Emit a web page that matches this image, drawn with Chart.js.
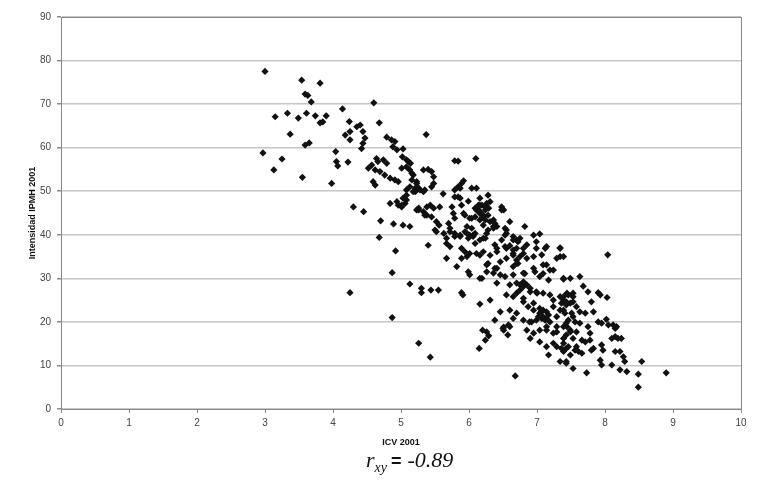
<!DOCTYPE html>
<html>
<head>
<meta charset="utf-8">
<title>ICV 2001 vs Intensidad IPMH 2001</title>
<script src="https://cdn.jsdelivr.net/npm/chart.js@4.4.1/dist/chart.umd.min.js"></script>
<style>
  html, body { margin: 0; padding: 0; background: #fff; }
  #wrap { position: relative; width: 766px; height: 498px; }
  #note {
    position: absolute; left: 366px; top: 447px;
    font-family: "Liberation Serif", "Times New Roman", serif;
    font-size: 22px; font-style: italic; color: #111; white-space: nowrap;
  }
  #note sub { font-size: 14px; vertical-align: -5px; }
  #note .eq { font-style: normal; font-family: "Liberation Sans", Arial, sans-serif; font-weight: bold; font-size: 18px; margin: 0 6px 0 4px; }
</style>
</head>
<body>
<div id="wrap">
  <canvas id="chart" width="766" height="498"></canvas>
  <div id="note">r<sub>xy</sub><span class="eq">=</span>-0.89</div>
</div>
<script>
// axis titles and ranges
const xTitle = 'ICV 2001';
const yTitle = 'Intensidad IPMH 2001';
const xRange = [0, 10];
const yRange = [0, 90];
const xStep = 1;
const yStep = 10;

// [ICV 2001, Intensidad IPMH 2001]
const observations = [
  [3.00,77.5],[3.54,75.5],[3.81,74.8],[3.59,72.3],[3.63,72.0],[3.68,70.5],[4.60,70.3],
  [3.15,67.1],[3.33,67.9],[3.49,66.8],[3.61,67.9],[3.74,67.3],[3.81,65.7],[3.85,65.9],
  [3.90,67.3],[4.14,68.9],[3.37,63.1],[4.24,66.0],[4.35,64.8],[4.40,65.2],[4.18,62.9],
  [4.25,63.7],[4.25,61.8],[4.44,63.7],[4.47,62.2],[4.44,61.0],[4.42,59.8],[4.68,65.7],
  [3.59,60.6],[3.65,61.1],[2.97,58.8],[3.25,57.4],[3.13,54.9],[3.55,53.2],[4.04,59.1],
  [4.05,56.8],[4.07,55.8],[4.22,56.7],[3.98,51.8],[4.79,62.4],[4.86,61.8],[4.91,61.4],
  [4.88,60.2],[4.94,59.5],[5.03,59.7],[5.02,57.9],[5.08,57.2],[5.14,56.4],[4.64,57.5],
  [4.66,56.8],[4.74,57.2],[4.79,56.4],[4.52,55.3],[4.57,56.0],[4.62,54.9],[4.69,54.5],
  [4.76,53.7],[4.84,53.0],[4.91,52.6],[4.96,52.2],[4.59,52.2],[4.62,51.4],[5.01,55.3],
  [5.08,55.6],[5.13,54.9],[5.18,53.7],[5.16,52.6],[5.23,51.8],[5.26,50.7],[5.21,49.9],
  [4.84,47.2],[4.94,47.6],[5.03,48.4],[5.08,49.1],[5.01,46.4],[4.30,46.4],
  [4.45,45.3],[4.70,43.2],[4.89,42.5],[5.03,42.2],[5.13,41.9],[4.96,46.8],[5.23,45.7],
  [4.68,39.4],[4.92,36.3],[4.87,31.3],[5.13,28.7],[4.25,26.7],[4.87,21.0],[5.26,15.1],
  [5.37,63.0],[5.79,57.0],[5.84,56.9],[6.10,57.5],[5.11,56.8],[5.33,54.9],[5.40,55.0],
  [5.45,54.5],[5.48,53.3],[5.16,54.1],[5.23,52.2],[5.13,51.0],[5.21,50.7],[5.28,50.3],
  [5.35,50.3],[5.48,51.8],[5.45,51.0],[5.08,48.0],[5.01,46.8],[5.06,47.2],[5.62,49.4],
  [5.79,50.3],[5.84,51.0],[5.89,51.8],[5.92,52.4],[5.79,48.7],[5.87,48.4],[6.11,50.7],
  [5.99,47.7],[6.16,48.4],[6.19,46.8],[6.26,47.2],[6.31,47.6],[6.48,46.4],[6.51,45.7],
  [5.26,46.1],[5.33,45.3],[5.38,44.5],[5.43,46.8],[5.48,46.1],[5.45,44.1],[5.57,46.4],
  [5.75,46.4],[5.77,44.9],[5.79,43.8],[5.94,44.5],[6.01,43.8],[6.09,44.1],[6.14,45.7],
  [6.16,44.9],[6.21,44.1],[6.24,46.4],[6.29,46.1],[5.50,41.1],[5.56,42.2],[5.63,40.3],
  [5.70,42.6],[5.72,41.5],[5.79,40.3],[5.87,39.6],[5.94,40.7],[6.01,39.9],[6.09,40.3],
  [5.97,41.9],[6.04,41.5],[6.16,43.4],[6.21,42.2],[6.31,43.0],[6.38,42.6],[6.41,41.9],
  [6.36,41.5],[6.55,41.1],[6.60,43.0],[6.53,39.9],[6.65,39.6],[6.82,41.9],[6.95,39.9],
  [7.04,40.2],
  [5.08,50.3],[5.18,49.9],[5.33,49.9],[5.84,48.7],[6.16,46.8],[5.26,45.7],[5.38,46.4],
  [5.35,44.5],[5.89,46.8],[5.92,44.9],[6.04,43.8],[6.11,45.7],[6.24,45.7],[6.28,44.5],
  [6.36,43.4],[5.52,43.0],[5.52,40.7],[5.72,40.7],[5.79,39.6],[5.99,39.2],[6.16,38.8],
  [6.24,39.2],[6.28,41.1],[6.38,37.7],[5.40,37.6],[5.67,38.0],[5.87,50.7],[6.28,49.1],
  [6.04,50.7],
  [6.09,46.1],[6.16,45.3],[6.21,44.5],[6.14,46.8],[6.48,45.7],[6.24,43.4],[6.36,41.9],
  [6.53,41.5],[6.06,39.9],[6.09,38.0],[6.55,40.3],[6.48,38.8],[6.65,38.8],[6.72,38.4],
  [6.75,39.2],[7.12,36.9],[6.53,37.3],[6.60,37.5],[6.65,36.5],[6.80,36.9],
  [5.30,27.7],[5.30,26.7],[5.44,27.3],[5.55,27.3],[5.89,26.7],[5.91,26.2],[6.16,24.1],
  [6.31,25.0],[6.46,22.3],[6.38,20.4],[6.51,18.8],[6.58,19.3],[6.20,18.1],[6.29,16.8],
  [6.57,17.0],[5.43,11.9],[6.15,13.9],[6.68,7.6],[7.17,12.4],[7.34,10.9],[7.43,10.5],
  [7.43,13.9],[7.29,14.3],[7.39,15.1],[5.87,39.9],[5.97,40.3],[6.06,39.6],[6.21,39.2],
  [6.26,40.3],[6.70,38.8],[6.99,38.4],[5.67,39.2],[5.72,37.3],[5.89,36.9],[5.94,36.1],
  [5.97,35.0],[6.01,35.7],[6.11,35.7],[6.16,35.3],[5.89,34.6],[5.67,34.6],[5.82,32.7],
  [5.99,31.5],[6.01,30.8],[6.19,30.0],[6.28,33.4],[6.26,31.5],[6.41,32.3],[6.46,33.8],
  [6.55,34.6],[6.65,35.3],[6.70,34.2],[6.72,33.4],[6.85,34.6],[6.46,30.8],[6.65,30.8],
  [6.31,35.3],[6.41,36.9],[6.55,36.9],[6.70,36.9],[6.85,37.7],[6.99,36.9],[7.14,37.3],
  [7.34,36.9],[7.39,35.0],[7.29,34.6],[7.14,33.1],[7.24,31.9],[7.09,31.1],[6.97,31.5],
  [6.82,31.1],[6.80,29.2],[6.70,28.9],[6.55,26.2],[6.75,27.3],[6.80,28.1],[6.85,28.5],
  [6.90,27.7],[6.99,26.9],[7.09,26.6],[7.19,26.2],[7.24,25.0],[7.34,25.8],[7.43,24.6],
  [6.80,24.6],[6.87,23.5],[6.95,22.7],[7.04,22.0],[7.09,21.2],[7.14,20.8],[6.99,20.4],
  [6.89,20.0],[6.85,18.1],[6.95,17.4],[7.14,18.1],[7.24,17.4],[7.29,18.9],[7.43,19.7],
  [6.70,22.0],[6.60,18.9],[6.51,18.1],[7.39,22.7],[7.24,23.5],[7.09,22.7],[7.07,20.8],
  [7.17,21.6],[7.12,20.4],
  [6.21,36.1],[6.41,36.1],[6.65,35.7],[6.75,35.0],[6.80,35.7],[6.95,35.0],[7.07,35.4],
  [7.34,35.0],[6.26,33.1],[6.38,32.3],[6.36,31.2],[6.41,28.9],[6.53,30.4],[6.60,28.5],
  [6.70,33.4],[6.65,32.7],[6.80,31.2],[6.95,32.3],[7.09,33.1],[7.19,31.9],[7.04,30.4],
  [7.17,29.6],[7.39,30.0],[7.49,30.0],[6.16,30.0],[6.60,22.7],[6.65,20.8],[6.50,18.5],
  [6.26,17.7],[6.24,15.8],[6.75,28.5],[6.90,26.9],[6.70,26.6],[6.65,25.8],[6.80,25.4],
  [7.00,26.6],[6.95,24.3],[7.04,23.1],[7.14,22.3],[7.02,21.2],[6.92,20.0],[6.80,20.4],
  [6.90,16.2],[7.04,18.1],[7.14,18.9],[7.19,20.0],[7.29,21.2],[7.34,22.7],[7.39,25.0],
  [7.44,26.6],[7.49,24.3],[7.53,25.8],[7.29,17.7],[7.44,18.9],[7.39,16.2],[7.53,16.2],
  [7.58,14.3],[7.24,15.1],[7.04,15.4],[7.14,14.3],[7.53,21.2],[7.49,17.7],
  [8.04,35.4],[7.34,37.0],[7.39,29.8],[7.63,30.4],[7.68,28.2],
  [7.75,26.9],[7.90,26.7],[7.93,26.2],[8.03,25.6],[7.80,24.6],[7.83,22.3],[7.90,20.0],
  [7.95,19.7],[8.02,20.6],[8.05,19.3],[8.12,19.3],[8.15,18.5],[8.17,18.9],[8.10,16.2],
  [8.15,16.6],[8.19,16.2],[8.24,16.2],[7.83,13.9],[7.95,14.7],[7.97,13.5],[8.15,13.2],
  [8.22,13.2],[8.27,12.0],[8.29,10.9],[8.54,10.9],[7.93,11.2],[7.95,10.1],[8.10,10.1],
  [8.22,9.0],[8.32,8.6],[8.49,8.0],[8.49,5.0],[8.90,8.3],[7.73,8.3],[7.53,9.3],
  [7.43,10.9],[7.39,25.8],[7.46,26.2],[7.53,26.6],[7.36,24.3],[7.43,23.9],[7.53,24.6],
  [7.58,23.5],[7.41,22.0],[7.51,22.0],[7.63,22.3],[7.71,22.0],[7.46,20.4],[7.56,20.0],
  [7.63,19.7],[7.39,18.9],[7.49,18.1],[7.58,17.7],[7.43,17.0],[7.66,15.8],[7.71,15.4],
  [7.36,13.9],[7.46,14.3],[7.56,13.5],[7.61,13.2],[7.75,18.9],[7.78,17.4],[7.78,15.8],
  [7.80,13.5],[7.66,12.8],[7.49,12.4],[7.39,13.2]
];

// plot area frame (top and right edges, like the spreadsheet original)
const frame = {
  id: 'frame',
  afterDatasetsDraw(chart) {
    const { ctx, chartArea: a } = chart;
    ctx.save();
    ctx.strokeStyle = '#8a8a8a';
    ctx.lineWidth = 1;
    ctx.strokeRect(Math.round(a.left) + 0.5, Math.round(a.top) + 0.5,
      Math.round(a.right - a.left), Math.round(a.bottom - a.top));
    ctx.restore();
  }
};

const tickFont = { family: '"Liberation Sans", Arial, sans-serif', size: 10 };
const titleFont = { family: '"Liberation Sans", Arial, sans-serif', size: 9, weight: 'bold' };

new Chart(document.getElementById('chart'), {
  type: 'scatter',
  data: {
    datasets: [{
      data: observations.map(([x, y]) => ({ x, y })),
      pointStyle: 'rectRot',
      radius: 3.6,
      hoverRadius: 3.6,
      backgroundColor: '#111',
      borderColor: '#111',
      borderWidth: 0
    }]
  },
  options: {
    responsive: false,
    animation: false,
    devicePixelRatio: 1,
    layout: { padding: { left: 0, top: 17, right: 25, bottom: 50 } },
    plugins: {
      legend: { display: false },
      tooltip: { enabled: false }
    },
    scales: {
      x: {
        type: 'linear',
        min: xRange[0],
        max: xRange[1],
        ticks: { stepSize: xStep, color: '#444', font: tickFont, padding: 4, maxRotation: 0 },
        grid: { drawOnChartArea: false, tickLength: 4, color: '#8a8a8a' },
        border: { color: '#8a8a8a' },
        title: { display: true, text: xTitle, color: '#111', font: titleFont, padding: { top: 0, bottom: 0 } },
        afterFit: (s) => { s.height = 39; }
      },
      y: {
        min: yRange[0],
        max: yRange[1],
        ticks: { stepSize: yStep, color: '#444', font: tickFont, padding: 6 },
        grid: { color: '#c6c6c6', lineWidth: 1.5, tickLength: 4, tickColor: '#8a8a8a' },
        border: { color: '#8a8a8a' },
        title: { display: true, text: yTitle, color: '#111', font: titleFont, padding: { top: 27, bottom: 0 } },
        afterFit: (s) => { s.width = 61; }
      }
    }
  },
  plugins: [frame]
});
</script>
</body>
</html>
